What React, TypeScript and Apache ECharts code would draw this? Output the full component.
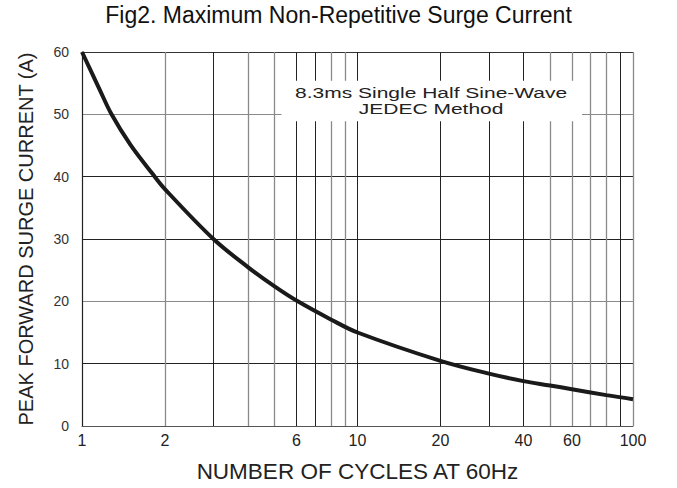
import React, { useEffect, useRef } from "react";
import * as echarts from "echarts";

const titleText = "Fig2. Maximum Non-Repetitive Surge Current";
const xAxisName = "NUMBER OF CYCLES AT 60Hz";
const yAxisName = "PEAK FORWARD SURGE CURRENT (A)";
const noteLines = ["8.3ms Single Half Sine-Wave", "JEDEC Method"];

// curve
const cycles = [1, 1.15, 1.28, 1.5, 1.8, 2, 3, 4, 5, 6.07, 8, 10, 20, 30, 40, 50, 60, 80, 100];
const current = [60, 54.3, 50, 45.1, 40.5, 38.0, 30, 25.5, 22.4, 20, 17.1, 15.0, 10.45, 8.4, 7.2, 6.5, 5.9, 4.95, 4.3];

// vertical grid lines and the labelled ones
const xGridValues = [1, 2, 3, 4, 5, 6, 7, 8, 9, 10, 20, 30, 40, 50, 60, 70, 80, 90, 100];
const xGridDark = [true, false, true, false, false, true, true, false, false, true, true, true, true, false, false, false, false, true, false];
const xTickLabels = [1, 2, 6, 10, 20, 40, 60, 100];

// horizontal grid lines 0..60
const yMin = 0;
const yMax = 60;
const yInterval = 10;
const yLineColors = ["#555", "#222", "#8a8a8a", "#222", "#222", "#8a8a8a", "#333"];

// note box (data coordinates)
const noteBoxFrom = [5.3, 55.4];
const noteBoxTo = [65.3, 48.9];
const noteCenter = [18.5, 52.2];

const FONT = '"Liberation Sans", Arial, Helvetica, sans-serif';

export default function App() {
  const ref = useRef<HTMLDivElement>(null);

  useEffect(() => {
    document.body.style.margin = "0";
    if (!ref.current) return;
    const chart = echarts.init(ref.current, null, { renderer: "svg" });

    const markData = xGridValues.map((v, i) => ({
      xAxis: v,
      lineStyle: {
        color: xGridDark[i] ? "#222" : "#8a8a8a",
        width: xGridDark[i] ? 1 : 1.3,
        type: "solid",
      },
      label: {
        show: xTickLabels.indexOf(v) >= 0,
        position: "start",
        formatter: String(v),
        fontSize: 16,
        fontFamily: FONT,
        color: "#222",
        distance: 6,
      },
    }));

    chart.setOption({
      animation: false,
      backgroundColor: "#fff",
      title: {
        text: titleText,
        left: "center",
        top: 3,
        padding: [0, 0, 0, 36],
        textStyle: { fontSize: 23, fontWeight: "normal", color: "#111", fontFamily: FONT },
      },
      grid: { left: 82, right: 44, top: 52, bottom: 61, containLabel: false },
      xAxis: {
        type: "log",
        logBase: 10,
        min: 1,
        max: 100,
        name: xAxisName,
        nameLocation: "middle",
        nameGap: 34,
        nameTextStyle: { fontSize: 22.5, color: "#222", fontFamily: FONT },
        axisLine: { show: true, lineStyle: { color: "#555", width: 1.2 } },
        axisTick: { show: false },
        axisLabel: { show: false },
        splitLine: { show: false },
        minorSplitLine: { show: false },
      },
      yAxis: {
        type: "value",
        min: yMin,
        max: yMax,
        interval: yInterval,
        name: yAxisName,
        nameLocation: "middle",
        nameGap: 46,
        nameTextStyle: { fontSize: 20, color: "#222", fontFamily: FONT },
        axisLine: { show: true, lineStyle: { color: "#222", width: 1.2 } },
        axisTick: { show: false },
        axisLabel: { fontSize: 14, color: "#333", margin: 13, fontFamily: FONT },
        splitLine: { show: true, lineStyle: { color: yLineColors, width: 1.2 } },
      },
      series: [
        {
          type: "line",
          data: [],
          silent: true,
          markLine: {
            silent: true,
            symbol: ["none", "none"],
            animation: false,
            data: markData,
          },
          z: 1,
        },
        {
          type: "line",
          data: cycles.map((c, i) => [c, current[i]]),
          smooth: 0.35,
          showSymbol: false,
          symbol: "none",
          lineStyle: { color: "#1a1a1a", width: 4 },
          z: 5,
        },
      ],
    });

    const p1 = chart.convertToPixel({ gridIndex: 0 }, noteBoxFrom) as number[];
    const p2 = chart.convertToPixel({ gridIndex: 0 }, noteBoxTo) as number[];
    const pc = chart.convertToPixel({ gridIndex: 0 }, noteCenter) as number[];

    chart.setOption({
      graphic: [
        {
          type: "rect",
          z: 100,
          shape: { x: p1[0], y: p1[1], width: p2[0] - p1[0], height: p2[1] - p1[1] },
          style: { fill: "#fff" },
        },
        {
          type: "text",
          z: 101,
          x: pc[0],
          y: pc[1],
          scaleX: 1.4,
          style: {
            text: noteLines.join("\n"),
            fontSize: 15,
            fontFamily: FONT,
            lineHeight: 15.5,
            fill: "#222",
            align: "center",
            verticalAlign: "middle",
          },
        },
      ],
    });

    return () => chart.dispose();
  }, []);

  return <div ref={ref} style={{ width: 677, height: 488 }} />;
}
